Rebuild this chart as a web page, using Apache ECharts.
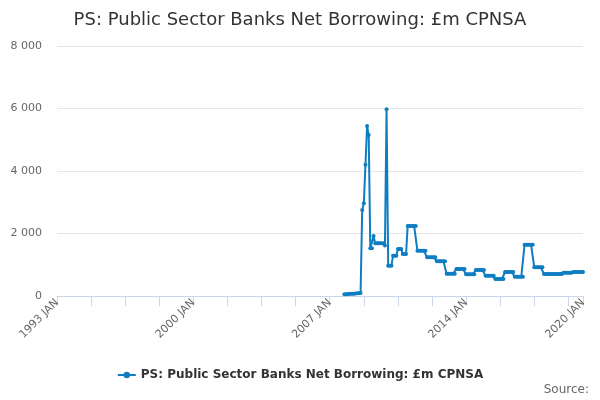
<!DOCTYPE html>
<html>
<head>
<meta charset="utf-8">
<script src="https://cdn.jsdelivr.net/npm/echarts@6/dist/echarts.min.js"></script>
<style>html,body{margin:0;padding:0;background:#fff}#c{width:600px;height:400px}</style>
</head>
<body>
<div id="c"></div>
<script>
const titleText = 'PS: Public Sector Banks Net Borrowing: £m CPNSA';
const seriesName = 'PS: Public Sector Banks Net Borrowing: £m CPNSA';
const startYear = 1993;
const endYear = 2020; // last category: 2020 JAN
const monthNames = ['JAN','FEB','MAR','APR','MAY','JUN','JUL','AUG','SEP','OCT','NOV','DEC'];
const firstDataLabel = '2007 OCT';
// monthly values from 2007 OCT to 2020 JAN (£m)
const values = [
  60,60,65,65,70,70,75,80,85,90,100,
  2750,2965,4200,5440,5150,1525,1525,1920,
  1685,1685,1685,1685,1685,1685,
  1620,5973,
  970,970,970,
  1290,1290,1290,
  1504,1504,1504,
  1344,1344,1344,
  2240,2240,2240,2240,2240,2240,
  1450,1450,1450,1450,1450,1450,
  1237,1237,1237,1237,1237,1237,
  1110,1110,1110,1110,1110,1110,
  715,715,715,715,715,715,
  864,864,864,864,864,864,
  693,693,693,693,693,693,
  832,832,832,832,832,832,
  650,650,650,650,650,650,
  544,544,544,544,544,544,
  768,768,768,768,768,768,
  618,618,618,618,618,618,
  1643,1643,1643,1643,1643,1643,
  917,917,917,917,917,917,
  704,704,704,704,704,704,704,704,704,704,704,704,
  747,747,747,747,747,747,
  768,768,768,768,768,768,768
];
const yTicks = [0, 2000, 4000, 6000, 8000];

const categories = [];
for (let y = startYear; y <= endYear; y++) {
  for (let m = 0; m < 12; m++) {
    if (y === endYear && m > 0) break;
    categories.push(y + ' ' + monthNames[m]);
  }
}
const startIdx = categories.indexOf(firstDataLabel);
const data = categories.map((c, i) => (i >= startIdx && i - startIdx < values.length) ? values[i - startIdx] : null);
const lastIdx = categories.length - 1;

const chart = echarts.init(document.getElementById('c'));
chart.setOption({
  animation: false,
  textStyle: { fontFamily: 'DejaVu Sans' },
  title: {
    text: titleText,
    left: 'center',
    top: 6,
    textStyle: { fontSize: 18, fontWeight: 'normal', color: '#333333', fontFamily: 'DejaVu Sans' }
  },
  legend: {
    data: [seriesName],
    left: 'center',
    top: 364,
    itemWidth: 18,
    itemHeight: 8,
    textStyle: { fontSize: 12, fontWeight: 'bold', color: '#333333', fontFamily: 'DejaVu Sans' }
  },
  grid: { left: 57, right: 17, top: 46, bottom: 104, containLabel: false },
  xAxis: {
    type: 'category',
    data: categories,
    boundaryGap: false,
    axisLine: { lineStyle: { color: '#ccd6eb', width: 1 } },
    axisTick: {
      show: true, length: 10,
      interval: (i) => i % 21 === 0 || i === lastIdx,
      lineStyle: { color: '#ccd6eb' }
    },
    axisLabel: {
      interval: (i) => i % 84 === 0 || i === lastIdx,
      rotate: 45,
      fontSize: 11,
      color: '#666666',
      margin: 5,
      fontFamily: 'DejaVu Sans'
    },
    splitLine: { show: false }
  },
  yAxis: {
    type: 'value',
    min: yTicks[0],
    max: yTicks[yTicks.length - 1],
    interval: 2000,
    axisLine: { show: false },
    axisTick: { show: false },
    axisLabel: {
      fontSize: 11,
      color: '#666666',
      margin: 15,
      fontFamily: 'DejaVu Sans',
      formatter: (v) => String(v).replace(/\B(?=(\d{3})+(?!\d))/g, ' ')
    },
    splitLine: { lineStyle: { color: '#e6e6e6', width: 1 } }
  },
  series: [{
    name: seriesName,
    type: 'line',
    data: data,
    showAllSymbol: true,
    symbol: 'circle',
    symbolSize: 4,
    connectNulls: false,
    itemStyle: { color: '#0f7dc2' },
    lineStyle: { color: '#0f7dc2', width: 2 }
  }],
  graphic: [{
    type: 'text',
    right: 11,
    top: 384,
    style: { text: 'Source:', fontSize: 12, fill: '#666666', fontFamily: 'DejaVu Sans' }
  }]
});
</script>
</body>
</html>
